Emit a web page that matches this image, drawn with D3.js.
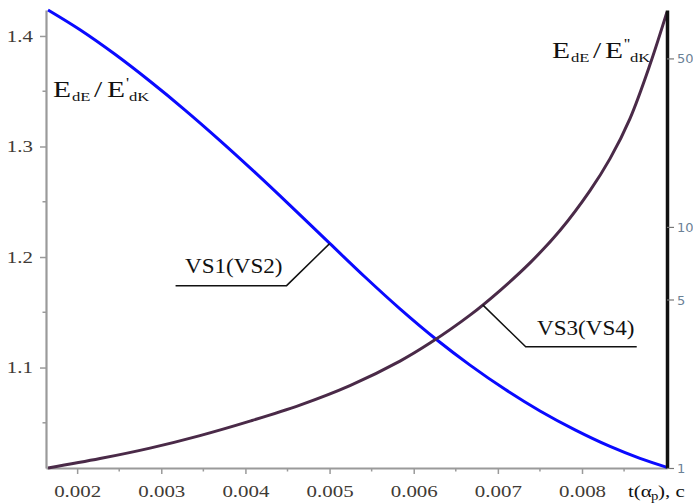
<!DOCTYPE html>
<html><head><meta charset="utf-8">
<script src="https://cdn.jsdelivr.net/npm/d3@7"></script>
<style>body{margin:0;background:#fff;} svg{display:block;}</style>
</head><body>
<svg id="chart" width="693" height="503"></svg>
<script>
// ---- data ----
const xTicks = [0.002, 0.003, 0.004, 0.005, 0.006, 0.007, 0.008];
const xMinorTicks = [0.0025, 0.0035, 0.0045, 0.0055, 0.0065, 0.0075, 0.0085];
const leftTicks = [1.1, 1.2, 1.3, 1.4];
const leftMinorTicks = [1.05, 1.15, 1.25, 1.35];
const rightTicks = [1, 5, 10, 50];

// VS1(VS2): E_dE / E'_dK (left, linear axis)
const vs1T = [0.001654, 0.002034, 0.002450, 0.002866, 0.003282, 0.003698, 0.004114, 0.004530, 0.005005, 0.005421, 0.005837, 0.006277, 0.006669, 0.007085, 0.007501, 0.007917, 0.008333, 0.008689, 0.009010];
const vs1V = [1.4235, 1.4056, 1.3834, 1.3590, 1.3330, 1.3054, 1.2766, 1.2468, 1.2121, 1.1819, 1.1531, 1.1249, 1.1022, 1.0803, 1.0607, 1.0436, 1.0286, 1.0178, 1.0097];

// VS3(VS4): E_dE / E''_dK (right, log axis)
const vs3T = [0.001654, 0.002272, 0.002866, 0.003460, 0.004054, 0.004648, 0.005242, 0.005837, 0.006193, 0.006669, 0.007025, 0.007382, 0.007738, 0.008095, 0.008333, 0.008570, 0.008808, 0.009010];
const vs3V = [1.0, 1.094, 1.209, 1.363, 1.565, 1.824, 2.197, 2.776, 3.297, 4.307, 5.448, 7.093, 9.664, 14.15, 19.20, 28.14, 47.13, 77.96];

// ---- layout ----
const svg = d3.select("#chart");
const L = 46, R = 667, T = 10, B = 468;
const SX = 1.23; // horizontal stretch of the reference text

const x = d3.scaleLinear().domain([0.00163, 0.00901]).range([L, R]);
const yL = d3.scaleLinear().domain([1.0091, 1.4235]).range([B, T]);
const yR = d3.scaleLog().domain([1, 79.4]).range([B, T]);

const serif = "'Liberation Serif','Times New Roman',serif";
const tickColor = "#3f3b36";
const axisGray = "#9a9a9a";

// bottom axis
const gx = svg.append("g").attr("transform", `translate(0,${B})`)
  .call(d3.axisBottom(x).tickValues(xTicks).tickSize(6).tickSizeOuter(0).tickFormat(d3.format(".3f")));
gx.select(".domain").attr("stroke", axisGray).attr("stroke-width", 2);
gx.selectAll(".tick line").attr("stroke", axisGray).attr("stroke-width", 1.5);
gx.selectAll(".tick text").attr("y", 29).attr("dy", 0)
  .attr("font-family", serif).attr("font-size", 17).attr("fill", tickColor)
  .attr("transform", `scale(${SX},1)`);
svg.append("g").selectAll("line").data(xMinorTicks).join("line")
  .attr("x1", d => x(d)).attr("x2", d => x(d)).attr("y1", B).attr("y2", B + 3.5)
  .attr("stroke", axisGray).attr("stroke-width", 1.5);

// left axis
const gl = svg.append("g").attr("transform", `translate(${L},0)`)
  .call(d3.axisLeft(yL).tickValues(leftTicks).tickSize(6).tickSizeOuter(0).tickFormat(d3.format(".1f")));
gl.select(".domain").attr("stroke", axisGray).attr("stroke-width", 2.2);
gl.selectAll(".tick line").attr("stroke", axisGray).attr("stroke-width", 1.5);
gl.selectAll(".tick text").attr("x", -13 / SX).attr("dy", "0.3em")
  .attr("font-family", serif).attr("font-size", 17).attr("fill", tickColor)
  .attr("transform", `scale(${SX},1)`);
svg.append("g").selectAll("line").data(leftMinorTicks).join("line")
  .attr("x1", L - 3.5).attr("x2", L).attr("y1", d => yL(d)).attr("y2", d => yL(d))
  .attr("stroke", axisGray).attr("stroke-width", 1.5);

// curves
const line1 = d3.line().x((d, i) => x(vs1T[i])).y(d => yL(d)).curve(d3.curveCatmullRom.alpha(0.5));
const line3 = d3.line().x((d, i) => x(vs3T[i])).y(d => yR(d)).curve(d3.curveCatmullRom.alpha(0.5));
svg.append("path").datum(vs1V).attr("d", line1).attr("fill", "none")
  .attr("stroke", "#0a0aff").attr("stroke-width", 3);
svg.append("path").datum(vs3V).attr("d", line3).attr("fill", "none")
  .attr("stroke", "#4a2a48").attr("stroke-width", 3);

// right axis
const gr = svg.append("g").attr("transform", `translate(${R},0)`)
  .call(d3.axisRight(yR).tickValues(rightTicks).tickSize(7).tickSizeOuter(0).tickFormat(d3.format("d")));
gr.select(".domain").attr("stroke", "#111").attr("stroke-width", 3.5);
gr.selectAll(".tick line").attr("stroke", "#777").attr("stroke-width", 1.2);
gr.selectAll(".tick text").attr("x", 10).attr("dy", "0.35em")
  .attr("font-family", "'DejaVu Sans',sans-serif").attr("font-size", 13).attr("fill", "#6b8196");

// ---- annotations ----
function label(parts, color) {
  parts.forEach(p => {
    svg.append("text").attr("transform", `translate(${p[1]},${p[2]}) scale(${SX},1)`)
      .attr("font-family", serif).attr("font-size", p[3]).attr("fill", color || "#111")
      .text(p[0]);
  });
}
// left y label: E_dE / E'_dK
label([["E", 53, 97, 24], ["dE", 72, 101, 13.5], ["/", 94, 97, 24], ["E", 107, 97, 24], ["'", 126, 88, 14], ["dK", 129, 101, 13.5]]);
// right y label: E_dE / E''_dK
label([["E", 552, 58, 24], ["dE", 571, 62, 13.5], ["/", 593, 58, 24], ["E", 605, 58, 24], ["''", 624, 49, 14], ["dK", 630, 62, 13.5]]);
// x label: t(α_p), c
label([["t(α", 628, 497, 17], ["p", 651, 500, 12], ["), c", 658, 497, 17]], "#111");

// VS labels with leader lines
const a1 = [x(0.005), yL(1.2121)];
svg.append("path").attr("d", `M${a1[0]},${a1[1]} L${a1[0] - 43},${a1[1] + 42} L${a1[0] - 154},${a1[1] + 42}`)
  .attr("fill", "none").attr("stroke", "#111").attr("stroke-width", 1.5);
svg.append("text").attr("transform", `translate(185,273) scale(1.1,1)`)
  .attr("font-family", serif).attr("font-size", 21).attr("fill", "#111").text("VS1(VS2)");

const a3 = [x(0.00682), yR(4.75)];
svg.append("path").attr("d", `M${a3[0]},${a3[1]} L${a3[0] + 43},${a3[1] + 42} L${a3[0] + 154},${a3[1] + 42}`)
  .attr("fill", "none").attr("stroke", "#111").attr("stroke-width", 1.5);
svg.append("text").attr("transform", `translate(537,335) scale(1.1,1)`)
  .attr("font-family", serif).attr("font-size", 21).attr("fill", "#111").text("VS3(VS4)");
</script>
</body></html>
